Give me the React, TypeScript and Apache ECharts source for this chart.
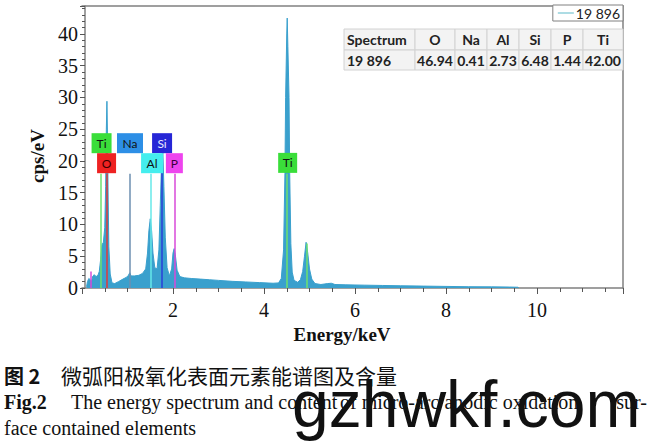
import React, { useEffect, useRef } from 'react';
import * as echarts from 'echarts';

// ---- Spectrum data (energy in keV, counts in cps/eV) ----
const energyKeV = [
  0.10, 0.12, 0.15, 0.18, 0.21, 0.24, 0.27, 0.31, 0.35, 0.38, 0.41, 0.44, 0.47, 0.50, 0.52, 0.535, 0.548, 0.56, 0.575, 0.59,
  0.62, 0.66, 0.72, 0.80, 0.90, 0.98, 1.02, 1.05, 1.08, 1.15, 1.25, 1.33, 1.40, 1.44, 1.47, 1.50, 1.53, 1.56, 1.60, 1.65,
  1.69, 1.72, 1.75, 1.775, 1.80, 1.83, 1.87, 1.92, 1.97, 2.00, 2.025, 2.05, 2.09, 2.15, 2.25, 2.4, 2.6, 2.8, 3.0, 3.3,
  3.6, 3.9, 4.2, 4.32, 4.38, 4.43, 4.46, 4.475, 4.50, 4.51, 4.525, 4.55, 4.565, 4.59, 4.62, 4.66, 4.74, 4.80, 4.85, 4.89,
  4.925, 4.96, 5.00, 5.05, 5.12, 5.25, 5.40, 5.48, 5.56, 5.8, 6.2, 6.6, 7.0, 7.5, 8.0, 8.5, 9.0, 9.4, 9.58, 9.6,
];
const countsPerEV = [
  0.2, 1.0, 1.5, 1.3, 1.1, 1.9, 2.1, 1.8, 2.0, 2.6, 4.5, 6.8, 7.2, 9.5, 16, 25, 29.4, 24, 14, 6.5,
  2.2, 0.8, 0.7, 1.0, 1.4, 1.7, 2.0, 2.4, 1.9, 1.9, 2.0, 2.3, 3.0, 5.5, 9, 10.9, 9, 5.5, 3.2, 3.0,
  6, 13, 20, 22, 16, 8, 3.2, 1.9, 3.0, 5.5, 6.2, 5.3, 2.8, 1.8, 1.6, 1.5, 1.4, 1.3, 1.2, 1.05,
  0.95, 0.85, 0.75, 0.8, 1.5, 6, 18, 30, 40, 42.5, 38, 30, 18, 7, 2.5, 1.2, 0.9, 1.3, 2.6, 5,
  7.2, 5.6, 3, 1.4, 0.7, 0.55, 0.7, 0.75, 0.55, 0.5, 0.45, 0.4, 0.35, 0.3, 0.25, 0.2, 0.18, 0.15, 0.12, 0,
];
const seriesName = '19 896';

// ---- Table (composition) ----
const tableHeader = ['Spectrum', 'O', 'Na', 'Al', 'Si', 'P', 'Ti'];
const tableValues = ['19 896', '46.94', '0.41', '2.73', '6.48', '1.44', '42.00'];

// ---- Element identification markers ----
const labelElements = ['Ti', 'O', 'Na', 'Si', 'Al', 'P', 'Ti'];
const labelEnergy = [0.43, 0.54, 1.055, 1.76, 1.54, 2.03, 4.52];
const lineElements = ['P', 'Ti', 'O', 'Na', 'Al', 'Si', 'P', 'Ti', 'Ti'];
const lineEnergy = [0.2, 0.42, 0.545, 1.055, 1.51, 1.75, 2.03, 4.49, 4.93];

// layout / style (not data)
const labelLevel = [22.8, 19.65, 22.8, 22.8, 19.65, 19.65, 19.7];
const labelWidth = [20, 19, 26, 20, 22, 17, 19];
const lineTop = [2.6, 18, 18, 18, 18, 21, 18, 18, 7];
const boxColor: Record<string, string> = { Ti: '#3ade3a', O: '#ee2222', Na: '#2d8fe6', Si: '#2626d6', Al: '#44eeee', P: '#ee44ee' };
const boxText: Record<string, string> = { Ti: '#111', O: '#3a0000', Na: '#111', Si: '#e8e8ff', Al: '#111', P: '#3a003a' };
const lineColor: Record<string, string> = { Ti: '#6ee06e', O: '#e03a3a', Na: '#6d8fb0', Al: '#66e8e8', Si: '#2a3fd8', P: '#d94ad9' };

const colX = [344, 415, 455, 487, 519, 551, 583, 623];
const rowY = [29, 50, 70];

const frameColor = '#808080';
const fill = '#3aa0cd';

export default function App() {
  const ref = useRef<HTMLDivElement>(null);
  useEffect(() => {
    if (!ref.current) return;
    const chart = echarts.init(ref.current, undefined, { renderer: 'svg' });

    const spectrum = energyKeV.map((e, i) => [e, countsPerEV[i]]);

    const tableEls: any[] = [];
    [tableHeader, tableValues].forEach((row, r) => {
      row.forEach((txt, c) => {
        tableEls.push({
          type: 'rect',
          z: 100,
          shape: { x: colX[c], y: rowY[r], width: colX[c + 1] - colX[c], height: rowY[r + 1] - rowY[r] },
          style: { fill: '#f3f3f3', stroke: '#d2d2d2', lineWidth: 1 },
        });
        tableEls.push({
          type: 'text',
          z: 101,
          x: c === 0 ? colX[c] + 3 : (colX[c] + colX[c + 1]) / 2,
          y: (rowY[r] + rowY[r + 1]) / 2,
          style: {
            text: txt,
            fill: '#222',
            font: 'bold 14px Lato',
            align: c === 0 ? 'left' : 'center',
            verticalAlign: 'middle',
          },
        });
      });
    });

    const serif = '"Liberation Serif", "Times New Roman", serif';
    const captionEls: any[] = [
      { type: 'text', x: 4, y: 375, style: { text: '图 2', font: 'bold 20px "Noto Sans CJK SC"', fill: '#111', verticalAlign: 'middle' } },
      { type: 'text', x: 61, y: 375, style: { text: '微弧阳极氧化表面元素能谱图及含量', font: '21px "Noto Sans CJK SC"', fill: '#111', verticalAlign: 'middle' } },
      { type: 'text', x: 4, y: 402, style: { text: 'Fig.2', font: `bold 20px ${serif}`, fill: '#111', verticalAlign: 'middle' } },
      { type: 'text', x: 71, y: 402, style: { text: 'The energy spectrum and content', font: `20px ${serif}`, fill: '#111', verticalAlign: 'middle' } },
      { type: 'text', x: 340, y: 402, style: { text: 'of micro-arc anodic oxidation', font: `20px ${serif}`, fill: '#111', verticalAlign: 'middle' } },
      { type: 'text', x: 647, y: 402, style: { text: 'sur-', font: `20px ${serif}`, fill: '#111', align: 'right', verticalAlign: 'middle' } },
      { type: 'text', x: 4, y: 428, style: { text: 'face contained elements', font: `20px ${serif}`, fill: '#111', verticalAlign: 'middle' } },
      { type: 'text', z: 120, x: 292, y: 404, style: { text: 'gzhwkf.com', font: '66px "Liberation Sans", Arial, sans-serif', fill: '#111', verticalAlign: 'middle' } },
    ];

    chart.setOption({
      animation: false,
      backgroundColor: '#ffffff',
      grid: { left: 82, right: 34, top: 6, bottom: 157, containLabel: false },
      legend: {
        data: [{ name: seriesName, icon: 'rect', itemStyle: { color: '#5ab8c8' } }],
        right: 34,
        top: 5,
        padding: [1, 3, 1, 5],
        itemWidth: 16,
        itemHeight: 1,
        borderColor: frameColor,
        borderWidth: 1,
        backgroundColor: '#ffffff',
        textStyle: { fontFamily: 'Lato', fontSize: 14, color: '#222', padding: [0, 0, 0, -3] },
        z: 50,
      },
      xAxis: [
        {
          type: 'value',
          min: 0,
          max: 11.89,
          interval: 2,
          axisLine: { show: true, onZero: false, lineStyle: { color: frameColor, width: 1.5 } },
          axisTick: { show: true, inside: false, length: 6, lineStyle: { color: '#555' } },
          minorTick: { show: true, splitNumber: 4, length: 4, lineStyle: { color: '#555' } },
          axisLabel: { showMinLabel: false, showMaxLabel: false, fontFamily: serif, fontSize: 20, color: '#111', margin: 12 },
          splitLine: { show: false },
          name: 'Energy/keV',
          nameLocation: 'middle',
          nameGap: 33,
          nameTextStyle: { fontFamily: serif, fontWeight: 'bold', fontSize: 19, color: '#111', padding: [0, 21, 0, 0] },
        },
        {
          type: 'value',
          position: 'top',
          min: 0,
          max: 11.89,
          axisLine: { show: true, onZero: false, lineStyle: { color: frameColor, width: 1.5 } },
          axisTick: { show: false },
          axisLabel: { show: false },
          splitLine: { show: false },
        },
      ],
      yAxis: [
        {
          type: 'value',
          min: 0,
          max: 44.4,
          interval: 5,
          offset: -3,
          axisLine: { show: true, onZero: false, lineStyle: { color: frameColor, width: 1.5 } },
          axisTick: { show: true, inside: false, length: 5, lineStyle: { color: '#555' } },
          minorTick: { show: true, splitNumber: 5, length: 3, lineStyle: { color: '#555' } },
          axisLabel: { showMaxLabel: false, fontFamily: serif, fontSize: 20, color: '#111', margin: 7 },
          splitLine: { show: false },
          name: 'cps/eV',
          nameLocation: 'middle',
          nameGap: 37,
          nameTextStyle: { fontFamily: serif, fontWeight: 'bold', fontSize: 19, color: '#111', padding: [0, 18, 0, 0] },
        },
        {
          type: 'value',
          position: 'right',
          min: 0,
          max: 44.4,
          axisLine: { show: true, onZero: false, lineStyle: { color: frameColor, width: 1.5 } },
          axisTick: { show: false },
          axisLabel: { show: false },
          splitLine: { show: false },
        },
      ],
      series: [
        {
          name: seriesName,
          type: 'line',
          data: spectrum,
          symbol: 'none',
          showSymbol: false,
          color: fill,
          lineStyle: { color: fill, width: 1 },
          areaStyle: { color: fill, opacity: 1 },
          z: 2,
          markLine: {
            silent: true,
            symbol: ['none', 'none'],
            label: { show: false },
            data: lineElements.map((el, i) => [
              { coord: [lineEnergy[i], lineTop[i]], lineStyle: { color: lineColor[el], width: 1.5, type: 'solid' } },
              { coord: [lineEnergy[i], 0] },
            ]),
          },
        },
        {
          name: 'labels',
          type: 'scatter',
          symbol: 'rect',
          z: 10,
          silent: true,
          data: labelElements.map((el, i) => ({
            name: el,
            value: [labelEnergy[i], labelLevel[i]],
            symbolSize: [labelWidth[i], 20],
            itemStyle: { color: boxColor[el], opacity: 1 },
            label: { color: boxText[el] },
          })),
          label: {
            show: true,
            position: 'inside',
            formatter: '{b}',
            fontFamily: 'Lato',
            fontSize: 12,
          },
        },
      ],
      graphic: [...tableEls, ...captionEls],
    });

    return () => chart.dispose();
  }, []);

  return <div ref={ref} style={{ position: 'fixed', left: 0, top: 0, width: 657, height: 445 }} />;
}
